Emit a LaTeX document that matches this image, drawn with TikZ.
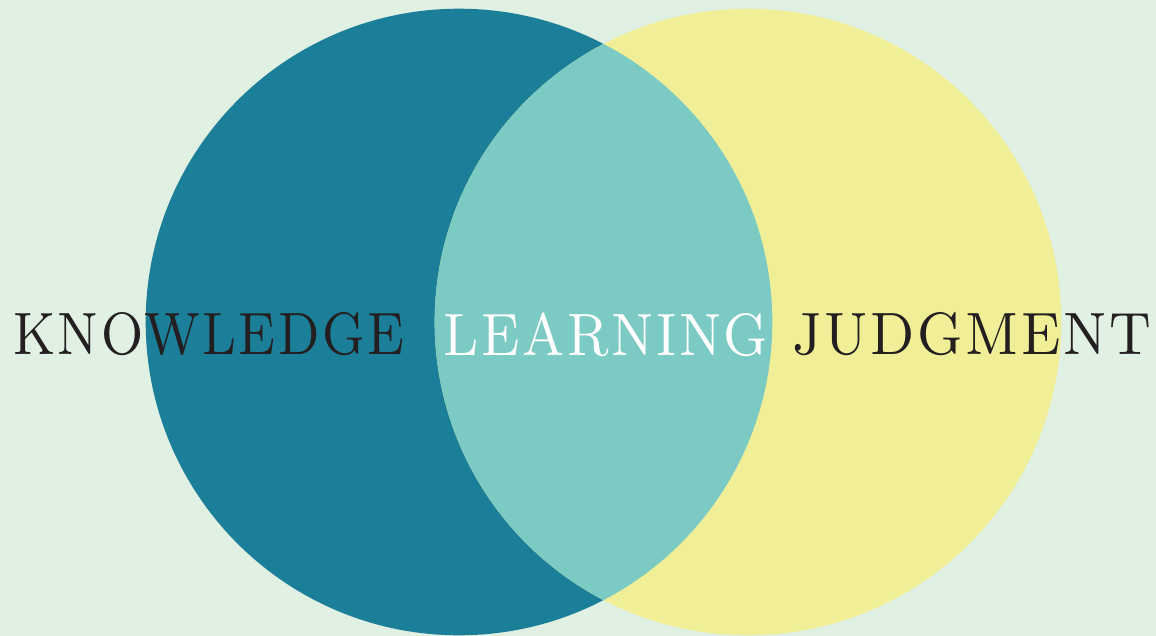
\documentclass[tikz,border=0pt]{standalone}
\usepackage{fontspec}
\usepackage{graphicx}

\newfontfamily\wordfont{lmroman8-regular.otf}[LetterSpace=5]

\definecolor{bgcol}{HTML}{E0F0E2}
\definecolor{knowcol}{HTML}{1B7F99}
\definecolor{lenscol}{HTML}{7BCAC3}
\definecolor{judgecol}{HTML}{F0EF97}
\definecolor{inkcol}{HTML}{231F20}

\newcommand{\wordbox}[2]{\resizebox{#1}{\height}{#2}}

\begin{document}
\begin{tikzpicture}[x=1bp,y=-1bp,
    word/.style = {
      anchor = base west,
      inner sep = 0pt,
      font = \wordfont\fontsize{60}{62}\selectfont
    }
  ]
  \useasboundingbox[fill=bgcol] (0,0) rectangle (1156,636);

  \coordinate (K) at (459,322);
  \coordinate (J) at (748,322);

  \fill[knowcol] (K) circle[radius=313.3bp];
  \fill[judgecol] (J) circle[radius=313.3bp];
  \begin{scope}
    \clip (K) circle[radius=313.3bp];
    \fill[lenscol] (J) circle[radius=313.3bp];
  \end{scope}

  \node[word,text=inkcol] (know) at (13,355) {\wordbox{391bp}{KNOWLEDGE}};
  \node[word,text=white] (learn) at (443,355) {\wordbox{325bp}{LEARNING}};
  \node[word,text=inkcol] (judge) at (792,355) {\wordbox{359bp}{JUDGMENT}};
\end{tikzpicture}
\end{document}
